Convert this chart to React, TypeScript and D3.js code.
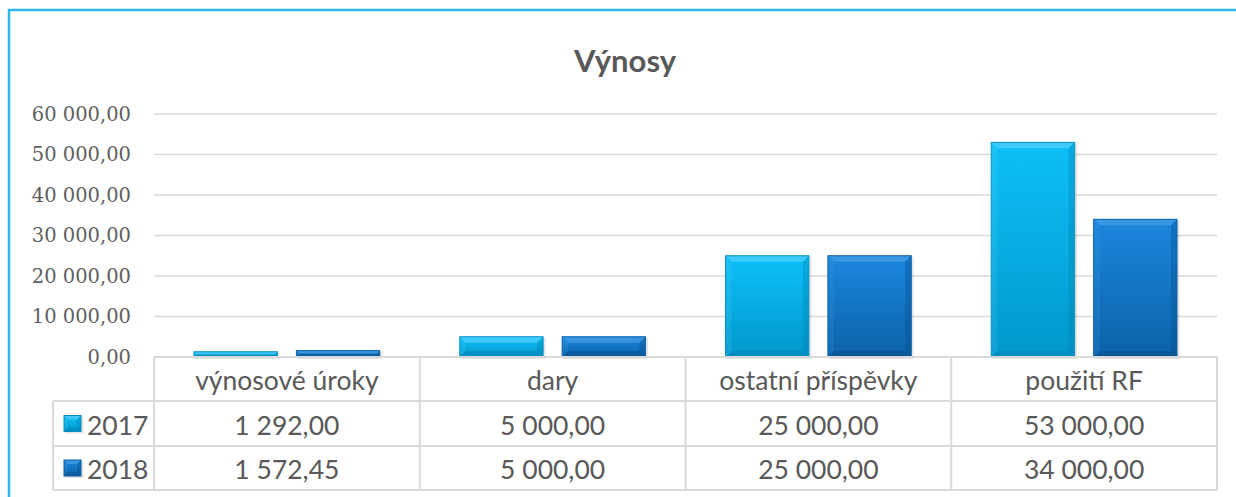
import * as d3 from "d3";

const categories = ["výnosové úroky", "dary", "ostatní příspěvky", "použití RF"];
const seriesNames = ["2017", "2018"];
const values2017 = [1292, 5000, 25000, 53000];
const values2018 = [1572.45, 5000, 25000, 34000];
const yTicks = [0, 10000, 20000, 30000, 40000, 50000, 60000];

const W = 1236;
const H = 497;

const locale = d3.formatLocale({
  decimal: ",",
  thousands: " ",
  grouping: [3],
  currency: ["", ""],
});
const fmt = locale.format(",.2f");

const palette = [
  { top: "#0cc0f8", bottom: "#0098cc", bevel: "#6fd8ff", dark: "#0079a8", edge: "#0a8ec2" },
  { top: "#1987de", bottom: "#0b62a8", bevel: "#5aa8ea", dark: "#084680", edge: "#0b62aa" },
];

const textColor = "#595959";
const gridColor = "#d9d9d9";

function BevelRect({
  x,
  y,
  w,
  h,
  s,
  bevel = 6,
}: {
  x: number;
  y: number;
  w: number;
  h: number;
  s: number;
  bevel?: number;
}) {
  const c = palette[s];
  const b = Math.min(bevel, h / 2, w / 2);
  return (
    <g>
      <rect x={x + 1} y={y + 1} width={w + 1.5} height={h + 1} fill="rgba(0,0,0,0.1)" />
      <rect x={x} y={y} width={w} height={h} fill={`url(#grad${s})`} />
      {/* top bevel */}
      <polygon
        points={`${x},${y} ${x + w},${y} ${x + w - b},${y + b} ${x + b},${y + b}`}
        fill={c.bevel}
        opacity={0.5}
      />
      {/* left bevel */}
      <polygon
        points={`${x},${y} ${x + b},${y + b} ${x + b},${y + h - b} ${x},${y + h}`}
        fill={c.bevel}
        opacity={0.15}
      />
      {/* right bevel */}
      <polygon
        points={`${x + w},${y} ${x + w},${y + h} ${x + w - b},${y + h - b} ${x + w - b},${y + b}`}
        fill={c.dark}
        opacity={0.3}
      />
      {/* bottom bevel */}
      <polygon
        points={`${x},${y + h} ${x + w},${y + h} ${x + w - b},${y + h - b} ${x + b},${y + h - b}`}
        fill={c.dark}
        opacity={0.35}
      />
      <rect x={x} y={y} width={w} height={h} fill="none" stroke={c.edge} strokeWidth={1} />
    </g>
  );
}

export default function App() {
  const plotLeft = 154;
  const plotRight = 1217;
  const axisY = 357;
  const rowLines = [401, 446, 490];
  const legendLeft = 53;

  const x0 = d3.scaleBand<string>().domain(categories).range([plotLeft, plotRight]).padding(0);
  const x1 = d3
    .scaleBand<string>()
    .domain(seriesNames)
    .range([40, x0.bandwidth() - 40])
    .paddingInner(0.186)
    .paddingOuter(0);
  const y = d3.scaleLinear().domain([0, 60000]).range([axisY, 114]);

  const series = [values2017, values2018];
  const colLines = [plotLeft, ...categories.map((c) => (x0(c) ?? 0) + x0.bandwidth())];

  return (
    <div style={{ position: "fixed", left: 0, top: 0 }}>
      <svg width={W} height={H} style={{ display: "block", background: "#fff" }}>
        <defs>
          {palette.map((c, i) => (
            <linearGradient key={i} id={`grad${i}`} x1="0" y1="0" x2="0" y2="1">
              <stop offset="0%" stopColor={c.top} />
              <stop offset="100%" stopColor={c.bottom} />
            </linearGradient>
          ))}
        </defs>

        {/* outer frame */}
        <line x1={8} y1={10} x2={W} y2={10} stroke="#2db7ea" strokeWidth={2.5} />
        <line x1={9} y1={9} x2={9} y2={H} stroke="#2db7ea" strokeWidth={2.5} />

        <text
          x={625}
          y={60}
          textAnchor="middle"
          dominantBaseline="central"
          fontFamily="Lato, 'Open Sans', sans-serif"
          fontWeight={700}
          fontSize={31}
          fill={textColor}
        >
          Výnosy
        </text>

        {/* gridlines */}
        {yTicks.slice(1).map((t) => (
          <line key={t} x1={plotLeft} x2={plotRight} y1={y(t)} y2={y(t)} stroke={gridColor} strokeWidth={1.5} />
        ))}

        {/* y axis labels */}
        {yTicks.map((t) => (
          <text
            key={t}
            x={131}
            y={y(t)}
            textAnchor="end"
            dominantBaseline="central"
            fontFamily="'DejaVu Serif', serif"
            fontSize={19.5}
            fill="#5f5f5f"
          >
            {fmt(t)}
          </text>
        ))}

        {/* bars */}
        {categories.map((cat, ci) =>
          seriesNames.map((sn, si) => {
            const v = series[si][ci];
            const bx = (x0(cat) ?? 0) + (x1(sn) ?? 0);
            const by = y(v);
            return (
              <BevelRect key={cat + sn} x={bx} y={by} w={x1.bandwidth()} h={axisY - by} s={si} />
            );
          })
        )}

        {/* data table */}
        <g stroke={gridColor} strokeWidth={2} fill="none">
          <line x1={plotLeft} x2={plotRight} y1={axisY} y2={axisY} />
          {rowLines.map((ry) => (
            <line key={ry} x1={legendLeft} x2={plotRight} y1={ry} y2={ry} />
          ))}
          {colLines.map((cx) => (
            <line key={cx} x1={cx} x2={cx} y1={axisY} y2={rowLines[2]} />
          ))}
          <line x1={legendLeft} x2={legendLeft} y1={rowLines[0]} y2={rowLines[2]} />
        </g>

        <g fontFamily="Lato, 'Open Sans', sans-serif" fontSize={26.5} fill={textColor}>
          {categories.map((cat) => (
            <text
              key={cat}
              x={(x0(cat) ?? 0) + x0.bandwidth() / 2}
              y={(axisY + rowLines[0]) / 2 + 1}
              textAnchor="middle"
              dominantBaseline="central"
            >
              {cat}
            </text>
          ))}
          {series.map((vals, si) =>
            categories.map((cat, ci) => (
              <text
                key={cat + si}
                x={(x0(cat) ?? 0) + x0.bandwidth() / 2}
                y={(rowLines[si] + rowLines[si + 1]) / 2 + 1}
                textAnchor="middle"
                dominantBaseline="central"
              >
                {fmt(vals[ci])}
              </text>
            ))
          )}
          {seriesNames.map((sn, si) => {
            const cy = (rowLines[si] + rowLines[si + 1]) / 2;
            return (
              <g key={sn}>
                <BevelRect x={64} y={cy - 8} w={17} h={16} s={si} bevel={4} />
                <text x={87} y={cy + 1} dominantBaseline="central">
                  {sn}
                </text>
              </g>
            );
          })}
        </g>
      </svg>
    </div>
  );
}
